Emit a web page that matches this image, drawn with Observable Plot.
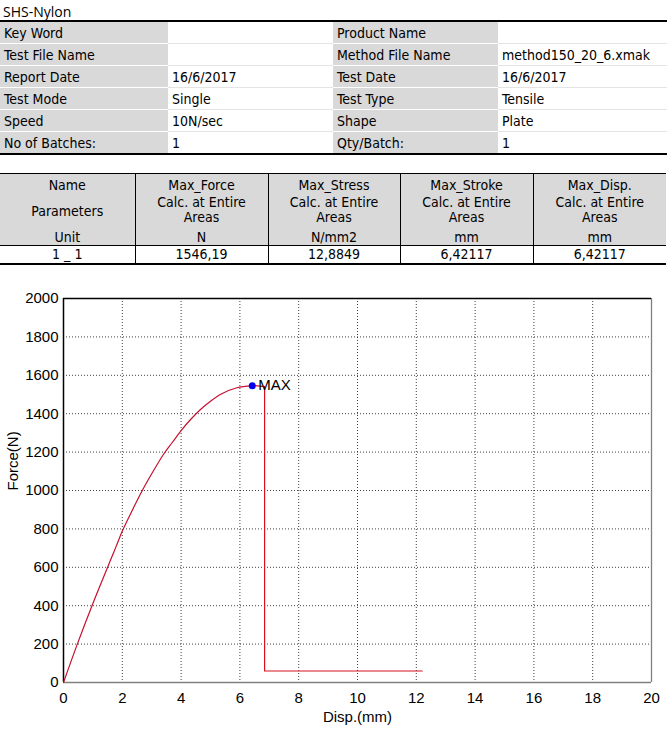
<!DOCTYPE html>
<html>
<head>
<meta charset="utf-8">
<script src="https://cdn.jsdelivr.net/npm/d3@7"></script>
<script src="https://cdn.jsdelivr.net/npm/@observablehq/plot@0.6"></script>
<style>
  body { margin: 0; background: #fff; width: 667px; height: 734px; position: relative; overflow: hidden; }
  .narrow { font-family: "Liberation Sans Narrow", "DejaVu Sans Condensed", "Roboto", sans-serif; font-size: 14px; color: #000; }
  #title { position: absolute; left: 3px; top: 2px; font-family: "Open Sans", "Noto Sans", sans-serif; font-size: 14px; }
  #info { position: absolute; left: 0; top: 20px; width: 667px; border-collapse: collapse; border-top: 2px solid #000; border-bottom: 2px solid #000; }
  #info td { height: 21px; padding: 0 0 0 4px; border-bottom: 1px solid #e4e4e4; white-space: nowrap; }
  #info td.lab { background: #d9d9d9; border-bottom: 1px solid #fff; }
  #res { position: absolute; left: 0; top: 173px; width: 666px; border-collapse: collapse; border-top: 1px solid #000; border-bottom: 2px solid #000; table-layout: fixed; }
  #res td { border-left: 1px solid #000; text-align: center; padding: 0; }
  #res td:first-child { border-left: none; }
  #res tr.hdr td { background: #d9d9d9; height: 70px; vertical-align: top; border-bottom: 1px solid #000; }
  #res tr.val td { height: 17px; line-height: 17px; }
  .l { height: 16px; line-height: 16px; }
  #chart { position: absolute; left: 0; top: 285px; }
  #chart svg, #chart svg text { font-family: "Liberation Sans", Arial, Helvetica, sans-serif !important; }
</style>
</head>
<body>
<div id="title">SHS-Nylon</div>
<table id="info" class="narrow"></table>
<table id="res" class="narrow"></table>
<div id="chart"></div>
<script>
// ---- report header data ----
const infoLabelsLeft = ["Key Word", "Test File Name", "Report Date", "Test Mode", "Speed", "No of Batches:"];
const infoValuesLeft = ["", "", "16/6/2017", "Single", "10N/sec", "1"];
const infoLabelsRight = ["Product Name", "Method File Name", "Test Date", "Test Type", "Shape", "Qty/Batch:"];
const infoValuesRight = ["", "method150_20_6.xmak", "16/6/2017", "Tensile", "Plate", "1"];

// ---- results table data ----
const resColumns = ["Max_Force", "Max_Stress", "Max_Stroke", "Max_Disp."];
const resUnits = ["N", "N/mm2", "mm", "mm"];
const resValues = ["1546,19", "12,8849", "6,42117", "6,42117"];
const resName = "1 _ 1";

// ---- curve data ----
// loading part up to the maximum
const dispLoad = [0, 0.47, 0.97, 1.5, 1.78, 2.02, 2.35, 2.68, 3.05, 3.41, 3.7, 4.0, 4.33, 4.66, 5.0, 5.4, 5.9, 6.42117];
const forceLoad = [0, 200, 400, 600, 705, 795, 900, 1000, 1100, 1190, 1250, 1312, 1371, 1422, 1465, 1505, 1535, 1546.19];
// break part after the maximum
const dispBreak = [6.42117, 6.6, 6.84, 6.84, 6.9, 12.2];
const forceBreak = [1546.19, 1545, 1541, 60, 60, 60];
const maxPoint = {disp: 6.42117, force: 1546.19, label: "MAX"};
const xTicks = [0, 2, 4, 6, 8, 10, 12, 14, 16, 18, 20];
const yTicks = [0, 200, 400, 600, 800, 1000, 1200, 1400, 1600, 1800, 2000];

// build info table
const info = document.getElementById("info");
const colW = [168, 165, 165, 169];
infoLabelsLeft.forEach((lab, i) => {
  const tr = document.createElement("tr");
  const cells = [[lab, "lab"], [infoValuesLeft[i], ""], [infoLabelsRight[i], "lab"], [infoValuesRight[i], ""]];
  cells.forEach(([t, c], j) => {
    const td = document.createElement("td");
    td.textContent = t; if (c) td.className = c;
    td.style.width = (colW[j] - 4) + "px";
    tr.appendChild(td);
  });
  info.appendChild(tr);
});

// build results table
const res = document.getElementById("res");
const widths = [135, 133, 132, 133, 133];
const cg = document.createElement("colgroup");
widths.forEach(w => { const c = document.createElement("col"); c.style.width = w + "px"; cg.appendChild(c); });
res.appendChild(cg);
const hdr = document.createElement("tr"); hdr.className = "hdr";
let td = document.createElement("td");
td.innerHTML = `<div class="l" style="margin-top:3px">Name</div><div class="l" style="margin-top:10px">Parameters</div><div class="l" style="margin-top:10px">Unit</div>`;
hdr.appendChild(td);
resColumns.forEach((c, i) => {
  const d = document.createElement("td");
  d.innerHTML = `<div class="l" style="margin-top:3px">${c}</div><div class="l" style="margin-top:1px">Calc. at Entire</div><div class="l" style="margin-top:-1px">Areas</div><div class="l" style="margin-top:4px">${resUnits[i]}</div>`;
  hdr.appendChild(d);
});
res.appendChild(hdr);
const vr = document.createElement("tr"); vr.className = "val";
[resName, ...resValues].forEach(v => { const d = document.createElement("td"); d.textContent = v; vr.appendChild(d); });
res.appendChild(vr);

// chart
const loadData = dispLoad.map((d, i) => ({disp: d, force: forceLoad[i]}));
const breakData = dispBreak.map((d, i) => ({disp: d, force: forceBreak[i]}));
const font = "'Liberation Sans', Arial, Helvetica, sans-serif";
const chart = Plot.plot({
  width: 667,
  height: 449,
  marginTop: 13,
  marginLeft: 63,
  marginRight: 16,
  marginBottom: 52,
  style: {fontFamily: font, fontSize: "15px", color: "#000", background: "#fff"},
  x: {domain: [0, 20]},
  y: {domain: [0, 2000]},
  marks: [
    Plot.gridX(xTicks.slice(1, -1), {stroke: "#000", strokeOpacity: 0.75, strokeDasharray: "1,2"}),
    Plot.gridY(yTicks.slice(1, -1), {stroke: "#000", strokeOpacity: 0.75, strokeDasharray: "1,2"}),
    Plot.ruleY([0], {stroke: "#808080", strokeWidth: 1.3}),
    Plot.ruleX([20], {stroke: "#808080", strokeWidth: 1.3}),
    Plot.ruleY([2000], {stroke: "#000", strokeWidth: 1.5}),
    Plot.ruleX([0], {stroke: "#000", strokeWidth: 1.5}),
    Plot.axisX(xTicks, {tickSize: 0, tickPadding: 10, label: null, fontSize: 15, tickFormat: d => String(d)}),
    Plot.axisY(yTicks, {tickSize: 0, tickPadding: 5, label: null, fontSize: 15, tickFormat: d => String(d)}),
    Plot.line(loadData, {x: "disp", y: "force", stroke: "#c8102e", strokeWidth: 1.2, curve: "catmull-rom"}),
    Plot.line(breakData, {x: "disp", y: "force", stroke: "#d81020", strokeWidth: 1.2}),
    Plot.dot([maxPoint], {x: "disp", y: "force", r: 3.5, fill: "#0000ee", stroke: "none"}),
    Plot.text([maxPoint], {x: "disp", y: "force", text: "label", textAnchor: "start", dx: 6, dy: 0, fontSize: 15, fill: "#000"}),
    Plot.text(["Disp.(mm)"], {frameAnchor: "bottom", dy: 39, fontSize: 15, fill: "#000"}),
    Plot.text(["Force(N)"], {frameAnchor: "left", dx: -50, rotate: -90, fontSize: 15, fill: "#000"})
  ]
});
document.getElementById("chart").appendChild(chart);
</script>
</body>
</html>
